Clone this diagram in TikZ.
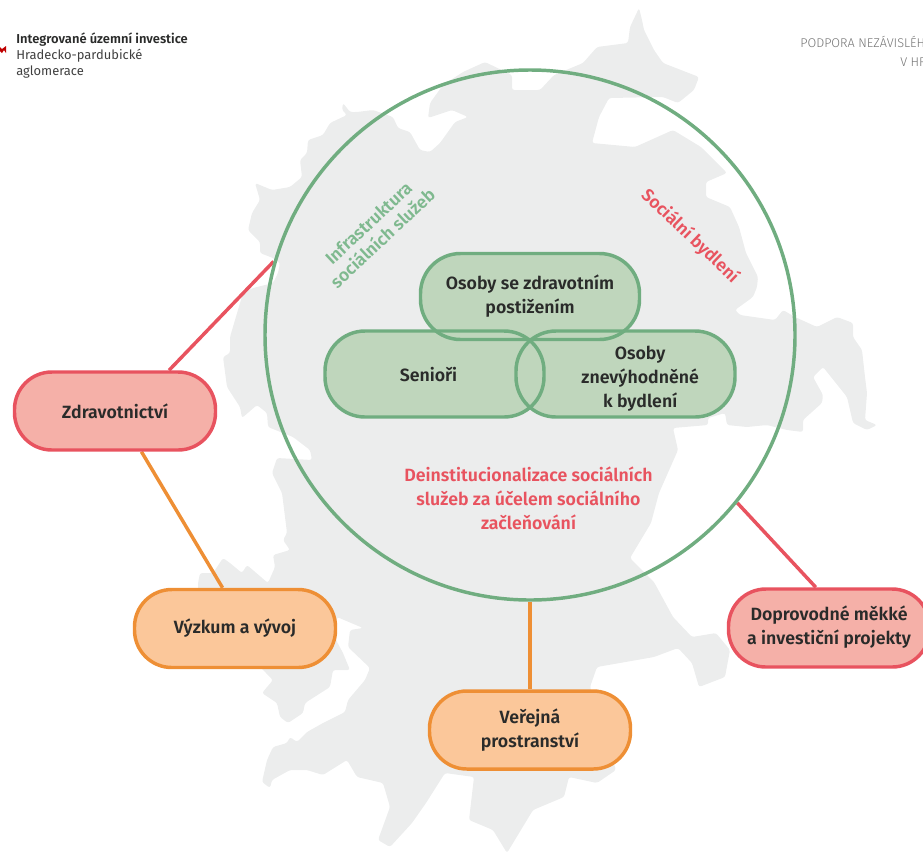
\documentclass[tikz,border=0pt]{standalone}
\usepackage{fontspec}
\setmainfont{Fira Sans}[BoldFont={Fira Sans SemiBold}]
\newfontfamily\lightfont{Fira Sans Light}
\usetikzlibrary{backgrounds}
\definecolor{mapgrey}{HTML}{ECEDED}
\definecolor{grn}{HTML}{70AD80}
\definecolor{grnfill}{HTML}{BFD6BC}
\definecolor{grntext}{HTML}{7FB98F}
\definecolor{redl}{HTML}{E8535F}
\definecolor{redfill}{HTML}{F5B0A8}
\definecolor{org}{HTML}{EE8F35}
\definecolor{orgfill}{HTML}{FBC79A}
\definecolor{ink}{HTML}{2A2B2A}
\tikzset{
  lbl/.style={font=\bfseries\fontsize{13.3}{18}\selectfont,text=ink,align=center,inner sep=0pt},
  pillline/.style={lbl,draw=grn,line width=2.6pt,rectangle,rounded corners=30pt,minimum width=164.25pt,minimum height=64.5pt},
  boxbase/.style={lbl,rectangle,line width=2.6pt,rounded corners=28pt,minimum width=150.75pt,minimum height=58.5pt},
  redbox/.style={boxbase,draw=redl,fill=redfill},
  orgbox/.style={boxbase,draw=org,fill=orgfill},
  redlink/.style={draw=redl,line width=2.6pt},
  orglink/.style={draw=org,line width=2.6pt},
  pillfill/.style={fill=grnfill,rectangle,rounded corners=30pt,minimum width=164.25pt,minimum height=64.5pt,inner sep=0pt},
  slant/.style={font=\bfseries\fontsize{13.1}{15.5}\selectfont,align=center,inner sep=0pt},
  head/.style={font=\lightfont\fontsize{9.5}{10}\selectfont,text=black!55,inner sep=0pt,anchor=base west},
  logo/.style={font=\fontsize{9.7}{12}\selectfont,text=black!75,inner sep=0pt,anchor=base west}
}
\begin{document}
\begin{tikzpicture}[x=0.75pt,y=-0.75pt]
\useasboundingbox (0,0) rectangle (923,854);
% map silhouette
\begin{pgfonlayer}{background}
\fill[mapgrey,rounded corners=1.8pt] (639,8) -- (642,20) -- (644,30) -- (654,50) -- (663,63) -- (699,77) -- (694,90) -- (678,103) -- (663,97) -- (609,98) -- (599,117) -- (592,143) -- (635,147) -- (673,130) -- (701,147) -- (727,173) -- (706,182) -- (706,197) -- (730,207) -- (739,227) -- (746,253) -- (758,277) -- (757,287) -- (753,297) -- (735,310) -- (740,315) -- (775,320) -- (783,310) -- (795,317) -- (817,327) -- (837,317) -- (853,323) -- (853,337) -- (862,350) -- (865,377) -- (867,393) -- (865,420) -- (877,425) -- (867,430) -- (853,423) -- (847,397) -- (823,367) -- (813,377) -- (823,395) -- (822,403) -- (803,420) -- (803,432) -- (787,430) -- (767,425) -- (747,427) -- (727,425) -- (725,413) -- (708,418) -- (708,425) -- (673,428) -- (678,450) -- (659,493) -- (651,523) -- (630,558) -- (654,582) -- (673,617) -- (692,637) -- (716,633) -- (730,650) -- (725,677) -- (699,687) -- (692,663) -- (678,648) -- (654,657) -- (597,667) -- (590,687) -- (600,720) -- (616,770) -- (597,783) -- (569,777) -- (564,797) -- (533,810) -- (507,853) -- (493,830) -- (469,820) -- (474,777) -- (445,773) -- (426,803) -- (412,823) -- (390,847) -- (378,840) -- (390,807) -- (383,783) -- (357,777) -- (347,760) -- (323,775) -- (307,770) -- (290,770) -- (272,780) -- (270,788) -- (262,782) -- (267,760) -- (273,747) -- (287,743) -- (290,737) -- (297,742) -- (307,732) -- (323,723) -- (345,712) -- (348,700) -- (365,680) -- (370,668) -- (348,647) -- (350,630) -- (363,628) -- (337,617) -- (336,640) -- (343,653) -- (350,670) -- (333,670) -- (330,687) -- (305,703) -- (303,713) -- (288,723) -- (280,717) -- (277,703) -- (262,693) -- (273,680) -- (265,672) -- (198,600) -- (198,583) -- (200,573) -- (213,573) -- (223,558) -- (230,563) -- (242,573) -- (247,565) -- (268,583) -- (275,567) -- (273,555) -- (290,550) -- (283,540) -- (287,533) -- (282,493) -- (272,473) -- (277,458) -- (312,460) -- (310,450) -- (293,437) -- (268,427) -- (267,413) -- (257,405) -- (242,418) -- (240,407) -- (227,387) -- (223,357) -- (230,353) -- (230,337) -- (235,320) -- (243,293) -- (253,288) -- (273,283) -- (278,273) -- (280,263) -- (273,258) -- (260,253) -- (260,242) -- (248,230) -- (252,213) -- (260,200) -- (255,183) -- (272,190) -- (290,187) -- (302,177) -- (300,160) -- (307,153) -- (308,140) -- (323,135) -- (330,123) -- (347,115) -- (342,110) -- (343,103) -- (350,112) -- (357,112) -- (373,110) -- (393,117) -- (398,128) -- (410,132) -- (420,150) -- (430,152) -- (440,143) -- (455,122) -- (468,117) -- (452,110) -- (428,118) -- (430,103) -- (443,85) -- (463,72) -- (485,62) -- (512,75) -- (512,90) -- (540,90) -- (554,75) -- (559,73) -- (583,63) -- (597,47) -- (628,43) -- (630,27) -- cycle;
\end{pgfonlayer}
% big circle
\node[circle,draw=grn,line width=2.6pt,minimum size=397.5pt,inner sep=0pt] (big) at (530,335) {};
% pill fills, one flat colour under all three outlines
\node[pillfill] at (530,296.5) {};
\node[pillfill] at (434.5,374) {};
\node[pillfill] at (625.5,374) {};
\node[pillline] (top) at (530,296.5) {Osoby se zdravotním\\postižením};
\node[pillline] (sen) at (434.5,374) {\hspace*{-9pt}Senioři};
\node[pillline] (dis) at (625.5,374) {\hspace*{22pt}\begin{tabular}{@{}c@{}}\rule{0pt}{20.1pt}Osoby\\znevýhodněné\\k bydlení\end{tabular}};
% outer boxes
\node[redbox] (zd) at (115,411) {Zdravotnictví};
\node[orgbox] (vy) at (235,628.5) {Výzkum a vývoj};
\node[orgbox] (ve) at (530,730) {Veřejná\\prostranství};
\node[redbox] (do) at (829,628) {\begin{tabular}{@{}c@{}}Doprovodné měkké\\a investiční projekty\end{tabular}};
% connectors below the shapes
\begin{pgfonlayer}{background}
\draw[redlink] (zd.37.6) -- (big.164.1);
\draw[orglink] (zd.-57.6) -- (vy.107.4);
\draw[orglink] (big.south) -- (ve.north);
\draw[redlink] (big.-39) -- (do.108.9);
\end{pgfonlayer}
% texts
\node[slant,text=grntext,rotate=43] (infra) at (375.5,230.5) {Infrastruktura\\sociálních služeb};
\node[slant,text=redl,rotate=-43.5] (byd) at (690,236) {Sociální bydlení};
\node[lbl,text=redl] (dein) at (528.5,498) {Deinstitucionalizace sociálních\\služeb za účelem sociálního\\začleňování};
\node[logo,font=\bfseries\fontsize{9.7}{12}\selectfont,text=ink] (l1) at (16,43) {Integrované územní investice};
\node[logo] (l2) at (16,59) {Hradecko-pardubické};
\node[logo] (l3) at (16,75) {aglomerace};
\node[head] (h1) at (800,47) {PODPORA NEZÁVISLÉH};
\node[head] (h2) at (900,66) {V HR};
\fill[red!75!black] (0,47) -- (2,49) -- (6,46) -- (6,53) -- (4,50) -- (2,53) -- (0,51) -- cycle;
\end{tikzpicture}
\end{document}
